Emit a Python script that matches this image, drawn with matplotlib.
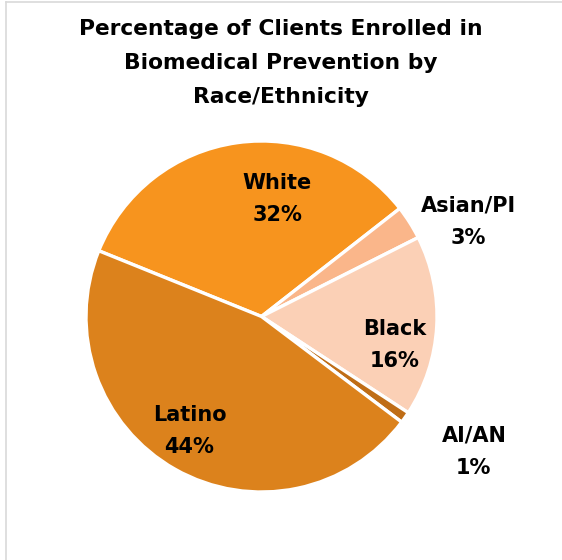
import matplotlib
matplotlib.use("Agg")
import matplotlib.pyplot as plt
from matplotlib.lines import Line2D

# data (clockwise from the Latino/White boundary)
groups = ["White", "Asian/PI", "Black", "AI/AN", "Latino"]
shares = [32, 3, 16, 1, 44]
colors = ["#F7941E", "#FAB68A", "#FBD0B6", "#BF6D16", "#DC821C"]

title = "Percentage of Clients Enrolled in\nBiomedical Prevention by\nRace/Ethnicity"

# label spots in units of pie radius (centre = 0,0)
label_xy = {
    "White": (0.09, 0.67),
    "Asian/PI": (1.18, 0.54),
    "Black": (0.76, -0.16),
    "AI/AN": (1.21, -0.77),
    "Latino": (-0.41, -0.65),
}

W, H = 562, 560
cx, cy, R = 261.5, 243.5, 175.5  # pixels, y from bottom

fig = plt.figure(figsize=(W / 100, H / 100), dpi=100)
ax = fig.add_axes([0, 0, 1, 1])
ax.pie(shares, colors=colors, startangle=158, counterclock=False,
       wedgeprops=dict(edgecolor="white", linewidth=2.4))
ax.set_xlim(-cx / R, (W - cx) / R)
ax.set_ylim(-cy / R, (H - cy) / R)
ax.set_aspect("auto")
ax.axis("off")

for g, v in zip(groups, shares):
    x, y = label_xy[g]
    ax.text(x, y, f"{g}\n{v}%", ha="center", va="center", fontsize=15,
            fontweight="bold", family="DejaVu Sans", linespacing=1.75,
            color="black")

fig.text(0.5, 1 - 63 / H, title, ha="center", va="center", fontsize=15.7,
         fontweight="bold", family="DejaVu Sans", linespacing=1.88,
         color="black")

# chart frame (top and left edges only visible)
fig.add_artist(Line2D([6 / W, 1], [1 - 2 / H, 1 - 2 / H], color="#D9D9D9", lw=1.2))
fig.add_artist(Line2D([6 / W, 6 / W], [0, 1 - 2 / H], color="#D9D9D9", lw=1.2))

fig.savefig("out.png", dpi=100)
